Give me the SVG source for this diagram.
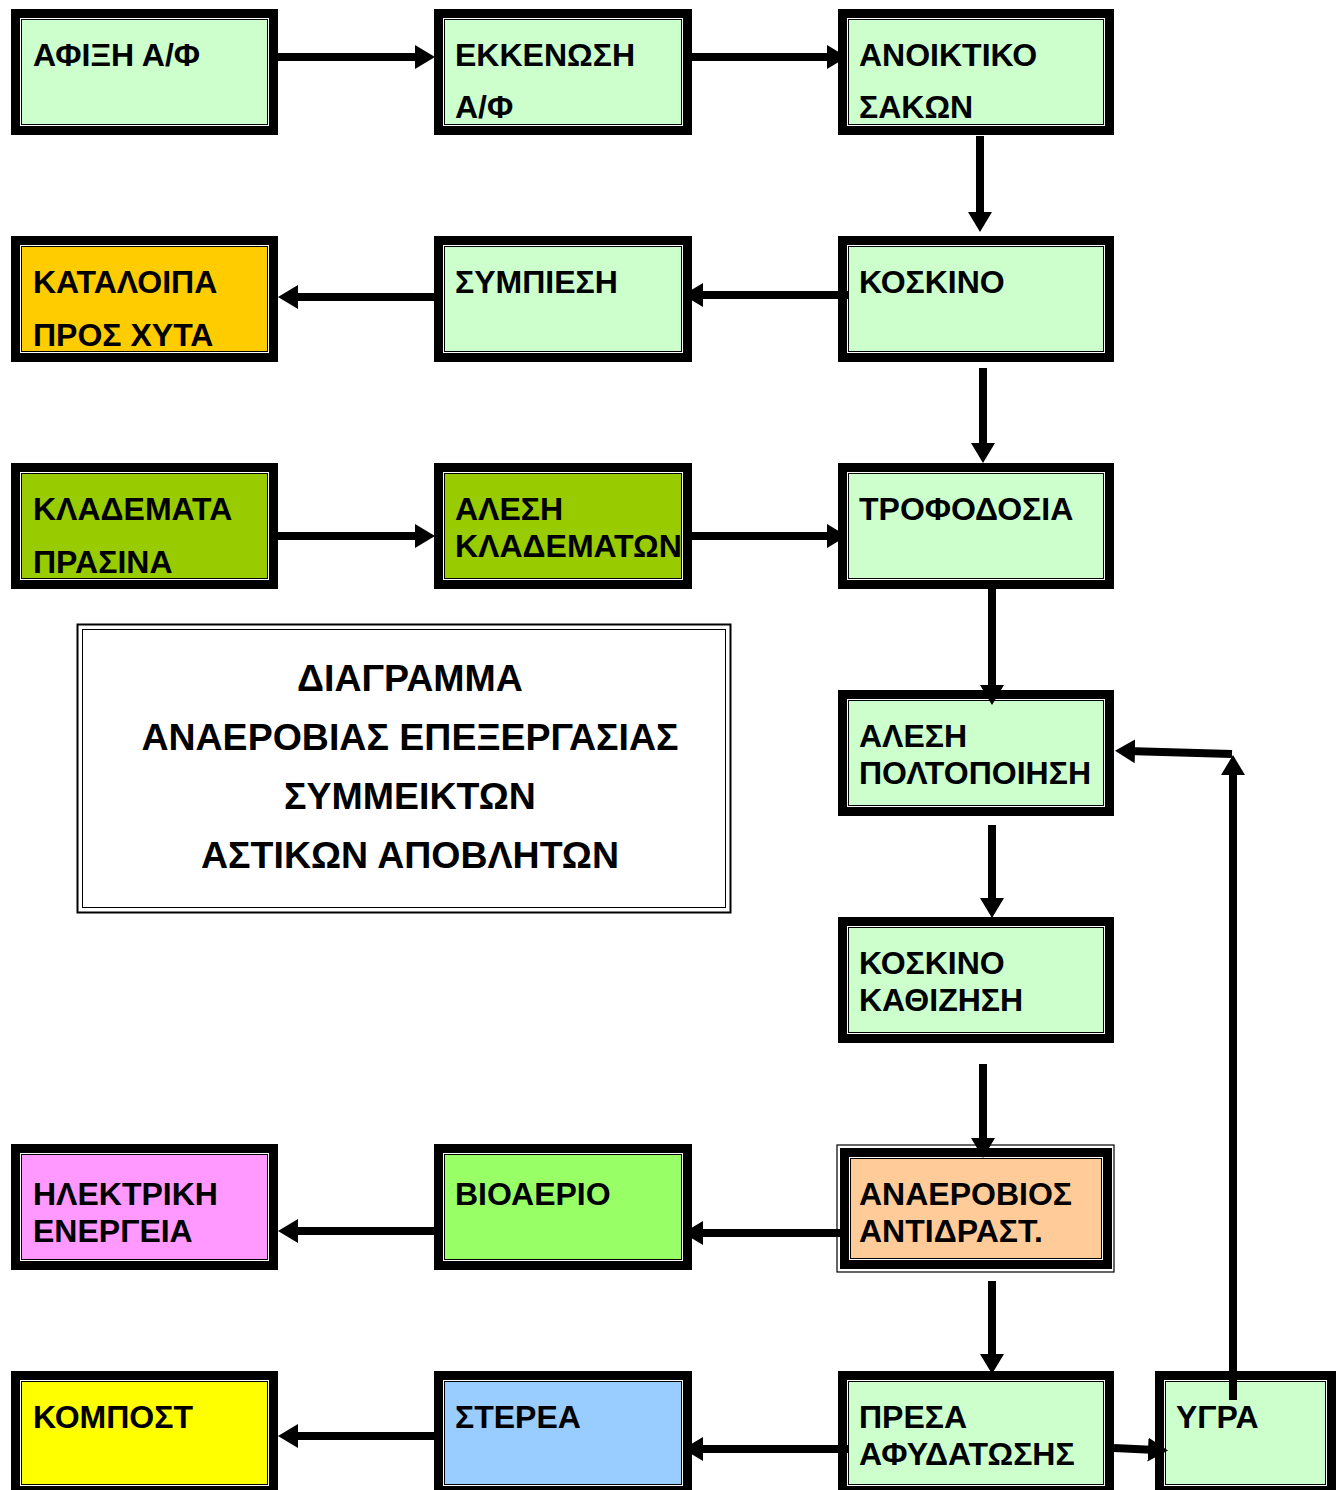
<svg xmlns="http://www.w3.org/2000/svg" width="1343" height="1490" viewBox="0 0 1343 1490">
<style>
.o{fill:#000}
.w{fill:#fff}
.f{stroke:#000;stroke-width:1}
.t{font-family:"Liberation Sans",Arial,sans-serif;font-weight:bold;font-size:32px;fill:#000}
.tt{font-family:"Liberation Sans",Arial,sans-serif;font-weight:bold;font-size:37.5px;fill:#000;text-anchor:middle}
.c{stroke:#000;stroke-width:8;fill:none;marker-end:url(#ah)}
</style>
<defs>
<marker id="ah" markerUnits="userSpaceOnUse" markerWidth="20" markerHeight="24" viewBox="0 0 20 24" refX="8" refY="12" orient="auto"><path d="M0,0 L20,12 L0,24 z" fill="#000"/></marker>
</defs>
<rect width="1343" height="1490" fill="#fff"/>

<g id="n1"><rect class="o" x="11" y="9" width="267" height="126"/><rect class="w" x="20" y="18" width="249" height="108"/><rect class="f" x="21.5" y="19.5" width="246" height="105" fill="#CCFFCC"/><text class="t" x="33" y="66">ΑΦΙΞΗ Α/Φ</text></g>
<g id="n2"><rect class="o" x="434" y="9" width="258" height="126"/><rect class="w" x="443" y="18" width="240" height="108"/><rect class="f" x="444.5" y="19.5" width="237" height="105" fill="#CCFFCC"/><text class="t" x="455" y="66">ΕΚΚΕΝΩΣΗ</text><text class="t" x="455" y="118">Α/Φ</text></g>
<g id="n3"><rect class="o" x="838" y="9" width="276" height="126"/><rect class="w" x="847" y="18" width="258" height="108"/><rect class="f" x="848.5" y="19.5" width="255" height="105" fill="#CCFFCC"/><text class="t" x="859" y="66">ΑΝΟΙΚΤΙΚΟ</text><text class="t" x="859" y="118">ΣΑΚΩΝ</text></g>

<g id="n4"><rect class="o" x="11" y="236" width="267" height="126"/><rect class="w" x="20" y="245" width="249" height="108"/><rect class="f" x="21.5" y="246.5" width="246" height="105" fill="#FFCC00"/><text class="t" x="33" y="293">ΚΑΤΑΛΟΙΠΑ</text><text class="t" x="33" y="346">ΠΡΟΣ ΧΥΤΑ</text></g>
<g id="n5"><rect class="o" x="434" y="236" width="258" height="126"/><rect class="w" x="443" y="245" width="240" height="108"/><rect class="f" x="444.5" y="246.5" width="237" height="105" fill="#CCFFCC"/><text class="t" x="455" y="293">ΣΥΜΠΙΕΣΗ</text></g>
<g id="n6"><rect class="o" x="838" y="236" width="276" height="126"/><rect class="w" x="847" y="245" width="258" height="108"/><rect class="f" x="848.5" y="246.5" width="255" height="105" fill="#CCFFCC"/><text class="t" x="859" y="293">ΚΟΣΚΙΝΟ</text></g>

<g id="n7"><rect class="o" x="11" y="463" width="267" height="126"/><rect class="w" x="20" y="472" width="249" height="108"/><rect class="f" x="21.5" y="473.5" width="246" height="105" fill="#99CC00"/><text class="t" x="33" y="520">ΚΛΑΔΕΜΑΤΑ</text><text class="t" x="33" y="573">ΠΡΑΣΙΝΑ</text></g>
<g id="n8"><rect class="o" x="434" y="463" width="258" height="126"/><rect class="w" x="443" y="472" width="240" height="108"/><rect class="f" x="444.5" y="473.5" width="237" height="105" fill="#99CC00"/><text class="t" x="455" y="520">ΑΛΕΣΗ</text><text class="t" x="455" y="557">ΚΛΑΔΕΜΑΤΩΝ</text></g>
<g id="n9"><rect class="o" x="838" y="463" width="276" height="126"/><rect class="w" x="847" y="472" width="258" height="108"/><rect class="f" x="848.5" y="473.5" width="255" height="105" fill="#CCFFCC"/><text class="t" x="859" y="520">ΤΡΟΦΟΔΟΣΙΑ</text></g>

<g id="n10"><rect class="o" x="838" y="690" width="276" height="126"/><rect class="w" x="847" y="699" width="258" height="108"/><rect class="f" x="848.5" y="700.5" width="255" height="105" fill="#CCFFCC"/><text class="t" x="859" y="747">ΑΛΕΣΗ</text><text class="t" x="859" y="784">ΠΟΛΤΟΠΟΙΗΣΗ</text></g>

<g id="n11"><rect class="o" x="838" y="917" width="276" height="126"/><rect class="w" x="847" y="926" width="258" height="108"/><rect class="f" x="848.5" y="927.5" width="255" height="105" fill="#CCFFCC"/><text class="t" x="859" y="974">ΚΟΣΚΙΝΟ</text><text class="t" x="859" y="1011">ΚΑΘΙΖΗΣΗ</text></g>

<g id="n12"><rect class="o" x="11" y="1144" width="267" height="126"/><rect class="w" x="20" y="1153" width="249" height="108"/><rect class="f" x="21.5" y="1154.5" width="246" height="105" fill="#FF99FF"/><text class="t" x="33" y="1205">ΗΛΕΚΤΡΙΚΗ</text><text class="t" x="33" y="1242">ΕΝΕΡΓΕΙΑ</text></g>
<g id="n13"><rect class="o" x="434" y="1144" width="258" height="126"/><rect class="w" x="443" y="1153" width="240" height="108"/><rect class="f" x="444.5" y="1154.5" width="237" height="105" fill="#99FF66"/><text class="t" x="455" y="1205">ΒΙΟΑΕΡΙΟ</text></g>
<g id="n14"><rect x="837" y="1145" width="277" height="127" fill="none" stroke="#000" stroke-width="1.2"/><rect class="o" x="840" y="1148" width="272" height="121"/><rect class="w" x="849" y="1157" width="254" height="103"/><rect class="f" x="850.5" y="1158.5" width="251" height="100" fill="#FFCC99"/><text class="t" x="859" y="1205">ΑΝΑΕΡΟΒΙΟΣ</text><text class="t" x="859" y="1242">ΑΝΤΙΔΡΑΣΤ.</text></g>

<g id="n15"><rect class="o" x="11" y="1371" width="267" height="124"/><rect class="w" x="20" y="1380" width="249" height="106"/><rect class="f" x="21.5" y="1381.5" width="246" height="103" fill="#FFFF00"/><text class="t" x="33" y="1428">ΚΟΜΠΟΣΤ</text></g>
<g id="n16"><rect class="o" x="434" y="1371" width="258" height="124"/><rect class="w" x="443" y="1380" width="240" height="106"/><rect class="f" x="444.5" y="1381.5" width="237" height="103" fill="#99CCFF"/><text class="t" x="455" y="1428">ΣΤΕΡΕΑ</text></g>
<g id="n17"><rect class="o" x="838" y="1371" width="276" height="124"/><rect class="w" x="847" y="1380" width="258" height="106"/><rect class="f" x="848.5" y="1381.5" width="255" height="103" fill="#CCFFCC"/><text class="t" x="859" y="1428">ΠΡΕΣΑ</text><text class="t" x="859" y="1465">ΑΦΥΔΑΤΩΣΗΣ</text></g>
<g id="n18"><rect class="o" x="1155" y="1371" width="181" height="124"/><rect class="w" x="1164" y="1380" width="163" height="106"/><rect class="f" x="1165.5" y="1381.5" width="160" height="103" fill="#CCFFCC"/><text class="t" x="1176" y="1428">ΥΓΡΑ</text></g>

<g id="title"><rect x="77.5" y="624.5" width="653" height="288" fill="#fff" stroke="#000" stroke-width="2"/><rect x="82.5" y="629.5" width="643" height="278" fill="none" stroke="#000" stroke-width="1"/>
<text class="tt" x="410" y="691">ΔΙΑΓΡΑΜΜΑ</text>
<text class="tt" x="410" y="750">ΑΝΑΕΡΟΒΙΑΣ ΕΠΕΞΕΡΓΑΣΙΑΣ</text>
<text class="tt" x="410" y="809">ΣΥΜΜΕΙΚΤΩΝ</text>
<text class="tt" x="410" y="868">ΑΣΤΙΚΩΝ ΑΠΟΒΛΗΤΩΝ</text></g>

<g id="connectors">
<path class="c" d="M278,57 H423"/>
<path class="c" d="M683,57 H835"/>
<path class="c" d="M980,136 V220"/>
<path class="c" d="M848,295 H695"/>
<path class="c" d="M434,297 H290"/>
<path class="c" d="M983,368 V451"/>
<path class="c" d="M278,536 H423"/>
<path class="c" d="M683,536 H835"/>
<path class="c" d="M992,588 V693"/>
<path class="c" d="M992,825 V906"/>
<path class="c" d="M983,1064 V1146"/>
<path class="c" d="M848,1233 H695"/>
<path class="c" d="M434,1231 H290"/>
<path class="c" d="M992,1281 V1362"/>
<path class="c" d="M848,1449 H695"/>
<path class="c" d="M434,1436 H290"/>
<path class="c" d="M1114,1448 L1156,1450"/>
<path class="c" d="M1233,1400 V767"/>
<path class="c" d="M1232,754 L1127,751"/>
</g>
</svg>
